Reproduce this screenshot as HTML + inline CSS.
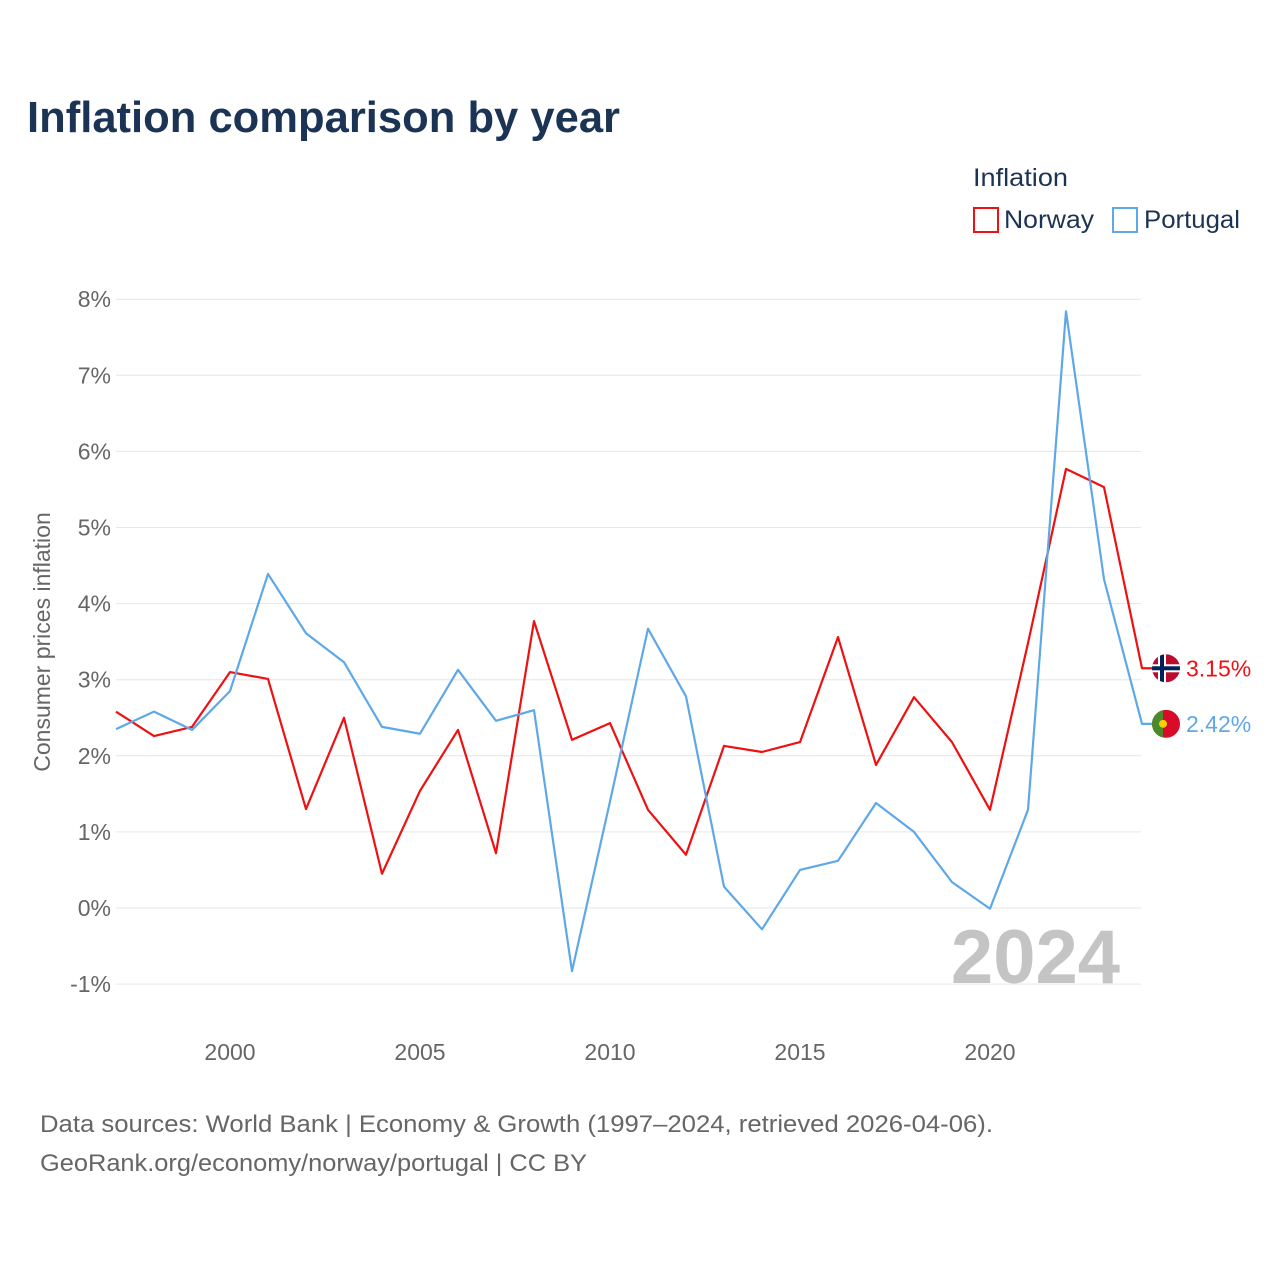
<!DOCTYPE html>
<html><head><meta charset="utf-8"><style>
body{margin:0;background:#fff;font-family:"Liberation Sans",sans-serif;}
</style></head><body>
<svg width="1280" height="1280" xmlns="http://www.w3.org/2000/svg" id="chart">
<rect width="1280" height="1280" fill="#fff"/>
<text x="27" y="132" font-size="44" font-weight="bold" fill="#1b3354" textLength="593" lengthAdjust="spacingAndGlyphs">Inflation comparison by year</text>
<text x="973" y="186" font-size="25" fill="#1b3354" textLength="95" lengthAdjust="spacingAndGlyphs">Inflation</text>
<g><rect x="974" y="208" width="24" height="24" fill="none" stroke="#ee1111" stroke-width="2"/><text x="1004" y="228" font-size="25" fill="#1b3354" textLength="90" lengthAdjust="spacingAndGlyphs">Norway</text></g>
<g><rect x="1113" y="208" width="24" height="24" fill="none" stroke="#5fa8e8" stroke-width="2"/><text x="1144" y="228" font-size="25" fill="#1b3354" textLength="96" lengthAdjust="spacingAndGlyphs">Portugal</text></g>
<text transform="translate(50,642) rotate(-90)" text-anchor="middle" font-size="23" fill="#666">Consumer prices inflation</text>
<g id="grid"></g><g id="yt"></g><g id="xt"></g>
<text x="1120" y="983" text-anchor="end" font-size="76" font-weight="bold" fill="#c4c4c4">2024</text>
<g id="series"></g>
<text x="40" y="1132" font-size="24" fill="#666" textLength="953" lengthAdjust="spacingAndGlyphs">Data sources: World Bank | Economy &amp; Growth (1997–2024, retrieved 2026-04-06).</text>
<text x="40" y="1171" font-size="24" fill="#666" textLength="547" lengthAdjust="spacingAndGlyphs">GeoRank.org/economy/norway/portugal | CC BY</text>
</svg>
<script>
const years=[1997,1998,1999,2000,2001,2002,2003,2004,2005,2006,2007,2008,2009,2010,2011,2012,2013,2014,2015,2016,2017,2018,2019,2020,2021,2022,2023,2024];
const norway=[2.58,2.26,2.38,3.10,3.01,1.30,2.50,0.45,1.54,2.34,0.72,3.77,2.21,2.43,1.29,0.70,2.13,2.05,2.18,3.56,1.88,2.77,2.18,1.29,3.48,5.77,5.53,3.15];
const portugal=[2.35,2.58,2.34,2.85,4.39,3.61,3.23,2.38,2.29,3.13,2.46,2.60,-0.83,1.40,3.67,2.78,0.28,-0.28,0.50,0.62,1.38,1.00,0.34,-0.01,1.29,7.84,4.32,2.42];
const yTicks=[-1,0,1,2,3,4,5,6,7,8];
const xTicks=[2000,2005,2010,2015,2020];
const NS="http://www.w3.org/2000/svg";
const X=v=>116+(v-1997)*38;
const Y=v=>908-v*76.1;
function mk(tag,attrs,parent,text){const e=document.createElementNS(NS,tag);for(const k in attrs)e.setAttribute(k,attrs[k]);if(text!==undefined)e.textContent=text;parent.appendChild(e);return e;}
const grid=document.getElementById('grid'),yt=document.getElementById('yt'),xt=document.getElementById('xt'),ser=document.getElementById('series');
yTicks.forEach(t=>{
 const l=mk('line',{x1:116,x2:1141,y1:Y(t),y2:Y(t),stroke:'#e6e6e6','stroke-width':1},grid);
 
 
 const tx=mk('text',{x:111,y:Y(t)+8,'text-anchor':'end','font-size':23,fill:'#666'},yt,t+'%');
 
 
});
xTicks.forEach(t=>{
 const tx=mk('text',{x:X(t),y:1060,'text-anchor':'middle','font-size':23,fill:'#666'},xt,String(t));
 
 
});
function line(vals,color,name){
 let d=vals.map((v,i)=>(i?'L':'M')+X(years[i])+' '+Y(v)).join(' ');
 const last=vals[vals.length-1];
 d+=' L1152 '+Y(last);
 const p=mk('path',{d:d,fill:'none',stroke:color,'stroke-width':2.2,'stroke-linejoin':'round'},ser);
 
 
 return last;
}
const nl=line(norway,'#ee1111','norway');
const pl=line(portugal,'#5fa8e8','portugal');
const ny=Y(nl);
const fn=mk('g',{},ser);


mk('defs',{},fn).innerHTML='<clipPath id="cn"><circle cx="1166" cy="'+ny+'" r="14"/></clipPath><clipPath id="cp"><circle cx="1166" cy="'+Y(pl)+'" r="14"/></clipPath>';
const gn=mk('g',{'clip-path':'url(#cn)'},fn);
mk('rect',{x:1152,y:ny-14,width:28,height:28,fill:'#ba0c2f'},gn);
mk('rect',{x:1152,y:ny-4,width:28,height:8,fill:'#fff'},gn);
mk('rect',{x:1158,y:ny-14,width:8,height:28,fill:'#fff'},gn);
mk('rect',{x:1152,y:ny-2,width:28,height:4,fill:'#00205b'},gn);
mk('rect',{x:1160,y:ny-14,width:4,height:28,fill:'#00205b'},gn);
const ln=mk('text',{x:1186,y:ny+8,'font-size':23,fill:'#ee1111'},ser,nl.toFixed(2)+'%');


const py=Y(pl);
const fp=mk('g',{'clip-path':'url(#cp)'},ser);


mk('rect',{x:1152,y:py-14,width:28,height:28,fill:'#da0a2a'},fp);
mk('rect',{x:1152,y:py-14,width:11,height:28,fill:'#4a8a2a'},fp);
mk('circle',{cx:1163,cy:py,r:4,fill:'#f4d000'},fp);
const lp=mk('text',{x:1186,y:py+8,'font-size':23,fill:'#5fa8e8'},ser,pl.toFixed(2)+'%');


</script>
</body></html>
